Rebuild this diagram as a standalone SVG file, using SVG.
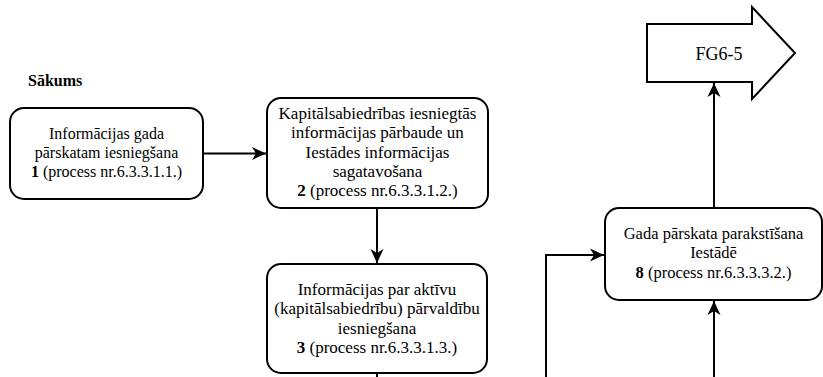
<svg xmlns="http://www.w3.org/2000/svg" width="823" height="377" viewBox="0 0 823 377">
<defs>
<style>
.box{fill:#fff;stroke:#000;stroke-width:2}
.t{font-family:'Liberation Serif','Times New Roman',serif;font-size:16px;fill:#000;text-anchor:middle}
.b{font-weight:bold}
.c{fill:none;stroke:#000;stroke-width:2}
</style>
<marker id="ah" markerWidth="16" markerHeight="14" refX="14" refY="7" orient="auto" markerUnits="userSpaceOnUse">
<path d="M0,0.5 L14,7 L0,13.5 L4,7 Z" fill="#000"/>
</marker>
</defs>
<rect width="823" height="377" fill="#fff"/>
<text x="28" y="86" class="t b" style="text-anchor:start">Sākums</text>
<g id="connectors">
<path class="c" d="M203,153.5 L266,153.5" marker-end="url(#ah)"/>
<path class="c" d="M377,208 L377,263" marker-end="url(#ah)"/>
<path class="c" d="M377,373 L377,377"/>
<path class="c" d="M546,377 L546,255 L604,255" marker-end="url(#ah)"/>
<path class="c" d="M714,377 L714,301" marker-end="url(#ah)"/>
<path class="c" d="M714,208 L714,83" marker-end="url(#ah)"/>
</g>
<g id="n1">
<rect class="box" x="10" y="108" width="193" height="91" rx="14"/>
<text class="t"><tspan x="106.5" y="138.5">Informācijas gada</tspan><tspan x="106.5" y="157.7">pārskatam iesniegšana</tspan><tspan x="106.5" y="176.9"><tspan class="b">1</tspan> (process nr.6.3.3.1.1.)</tspan></text>
</g>
<g id="n2">
<rect class="box" x="267" y="98" width="221" height="110" rx="14"/>
<text class="t" style="font-size:17px"><tspan x="377.5" y="119">Kapitālsabiedrības iesniegtās</tspan><tspan x="377.5" y="138.3">informācijas pārbaude un</tspan><tspan x="377.5" y="157.6">Iestādes informācijas</tspan><tspan x="377.5" y="176.9">sagatavošana</tspan><tspan x="377.5" y="196.2"><tspan class="b">2</tspan> (process nr.6.3.3.1.2.)</tspan></text>
</g>
<g id="n3">
<rect class="box" x="267" y="264" width="220" height="109" rx="14"/>
<text class="t" style="font-size:17px"><tspan x="377" y="295">Informācijas par aktīvu</tspan><tspan x="377" y="314.3">(kapitālsabiedrību) pārvaldību</tspan><tspan x="377" y="333.6">iesniegšana</tspan><tspan x="377" y="352.9"><tspan class="b">3</tspan> (process nr.6.3.3.1.3.)</tspan></text>
</g>
<g id="n8">
<rect class="box" x="605" y="208" width="217" height="92" rx="14"/>
<text class="t" style="font-size:16.5px"><tspan x="713.5" y="239">Gada pārskata parakstīšana</tspan><tspan x="713.5" y="258.3">Iestādē</tspan><tspan x="713.5" y="277.6"><tspan class="b">8</tspan> (process nr.6.3.3.3.2.)</tspan></text>
</g>
<g id="fg65">
<path class="box" d="M647,24 L752,24 L752,7 L795,53 L752,99 L752,82 L647,82 Z"/>
<text class="t" x="719" y="60" style="font-size:18px">FG6-5</text>
</g>
</svg>
